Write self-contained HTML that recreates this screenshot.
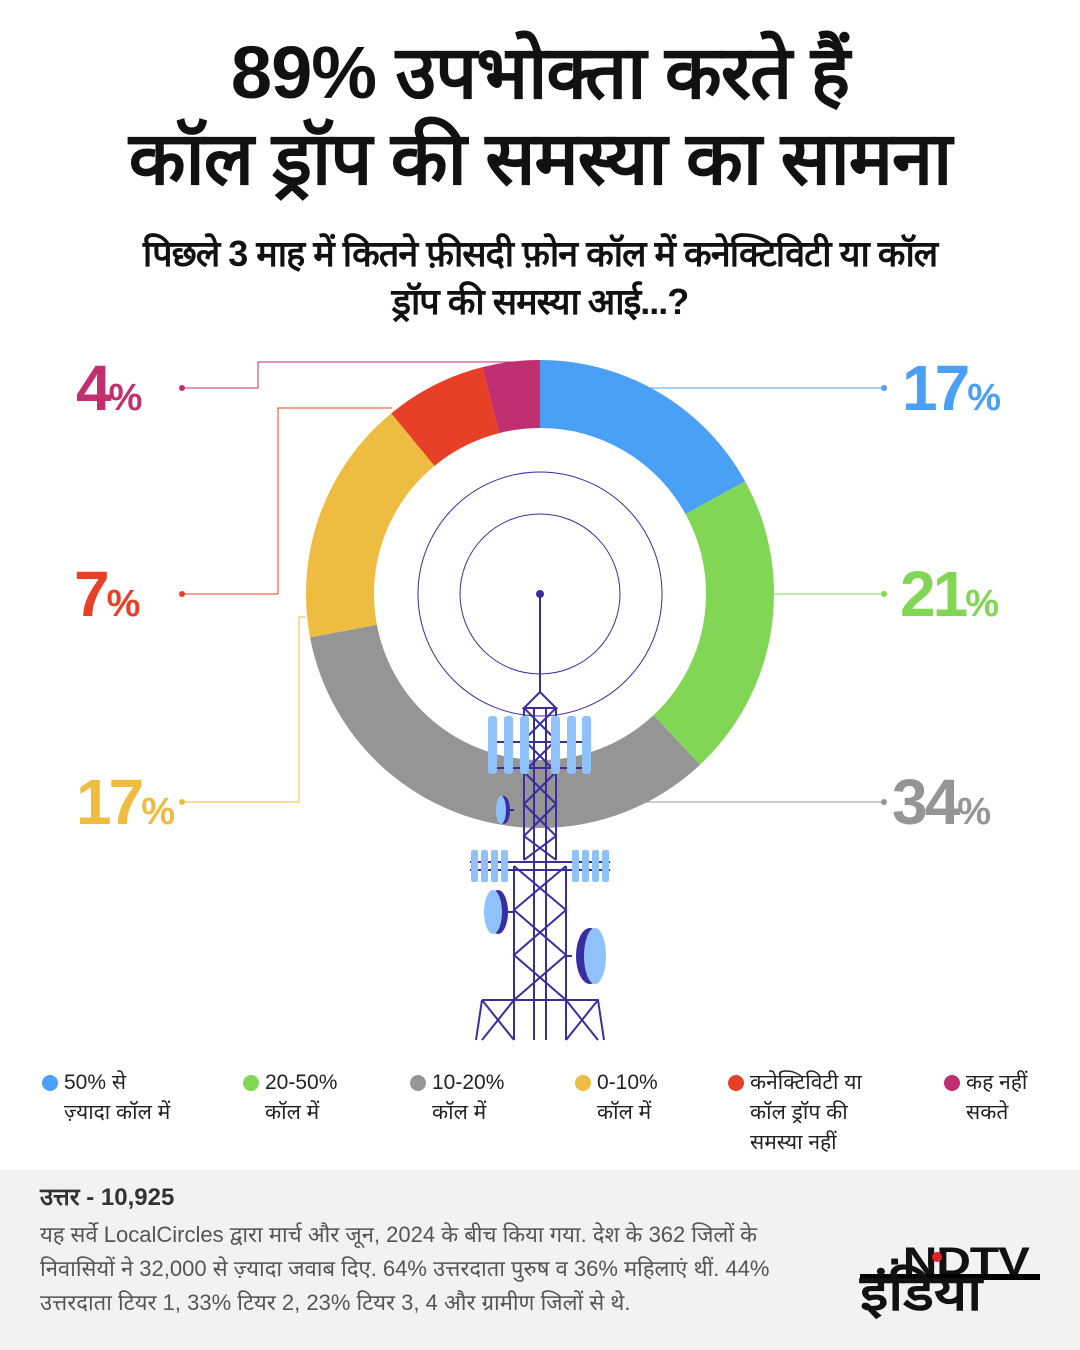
<!DOCTYPE html>
<html><head><meta charset="utf-8"><style>
body{margin:0;width:1080px;height:1350px;background:#fff;position:relative;overflow:hidden;font-family:"Liberation Sans","Noto Sans CJK SC",sans-serif;color:#111}
.t{position:absolute;left:0;width:1080px;text-align:center}
.big{position:absolute;font-weight:bold;font-size:64px;letter-spacing:-3px;line-height:1}
.big small{font-size:38px;letter-spacing:0}
.lg{position:absolute;top:1068px;font-size:21px;line-height:30px;color:#222}
.lg i{position:absolute;left:-22px;top:7px;width:16px;height:16px;border-radius:50%}
</style></head><body>
<div class="t" style="top:30px;font-size:74px;font-weight:900;line-height:86px;letter-spacing:-1px">89% उपभोक्ता करते हैं<br>कॉल ड्रॉप की समस्या का सामना</div>
<div class="t" style="top:230px;font-size:36px;font-weight:bold;line-height:48px;letter-spacing:-1px">पिछले 3 माह में कितने फ़ीसदी फ़ोन कॉल में कनेक्टिविटी या कॉल<br>ड्रॉप की समस्या आई...?</div>
<svg width="1080" height="1350" style="position:absolute;left:0;top:0">
<g transform="translate(540,594)">
<circle r="200" fill="none" stroke="#4aa0f5" stroke-width="68" stroke-dasharray="213.6 1256.6" transform="rotate(-90)"/>
<circle r="200" fill="none" stroke="#82d655" stroke-width="68" stroke-dasharray="263.9 1256.6" stroke-dashoffset="-213.6" transform="rotate(-90)"/>
<circle r="200" fill="none" stroke="#959595" stroke-width="68" stroke-dasharray="427.3 1256.6" stroke-dashoffset="-477.5" transform="rotate(-90)"/>
<circle r="200" fill="none" stroke="#eebc41" stroke-width="68" stroke-dasharray="213.6 1256.6" stroke-dashoffset="-904.8" transform="rotate(-90)"/>
<circle r="200" fill="none" stroke="#e84026" stroke-width="68" stroke-dasharray="88 1256.6" stroke-dashoffset="-1118.4" transform="rotate(-90)"/>
<circle r="200" fill="none" stroke="#c03070" stroke-width="68" stroke-dasharray="50.3 1256.6" stroke-dashoffset="-1206.4" transform="rotate(-90)"/>
<circle r="122" fill="none" stroke="#3a2da0" stroke-width="1"/>
<circle r="80" fill="none" stroke="#3a2da0" stroke-width="1"/>
<circle r="4" fill="#3a2da0"/>
</g>
<g stroke-width="1" fill="none">
<path d="M650 388H884" stroke="#4aa0f5"/><circle cx="884" cy="388" r="3" fill="#4aa0f5"/>
<path d="M774 594H884" stroke="#82d655"/><circle cx="884" cy="594" r="3" fill="#82d655"/>
<path d="M640 802H884" stroke="#959595"/><circle cx="884" cy="802" r="3" fill="#959595"/>
<path d="M182 388H258V362H540" stroke="#c03070"/><circle cx="182" cy="388" r="3" fill="#c03070"/>
<path d="M182 594H278V408H392" stroke="#e84026"/><circle cx="182" cy="594" r="3" fill="#e84026"/>
<path d="M182 802H299V617H306" stroke="#eebc41"/><circle cx="182" cy="802" r="3" fill="#eebc41"/>
</g>
<g stroke="#3a2da0" stroke-width="2" fill="none">
<line x1="540" y1="594" x2="540" y2="692"/>
<path d="M540 692L524 708H556Z"/>
<path d="M524 708V860M556 708V860"/>
<path d="M524 708L556 740L524 772L556 804L524 836L556 860M556 708L524 740L556 772L524 804L556 836L524 860"/>
<path d="M534 708V1040M546 708V1040"/>
<path d="M490 742H590M490 768H590"/>
<path d="M470 862H610M470 870H610"/>
<path d="M514 866V1000M566 866V1000"/>
<path d="M514 866L566 910L514 955L566 1000M566 866L514 910L566 955L514 1000"/>
<path d="M482 1000H598L604 1040M482 1000L476 1040M514 1000V1040M566 1000V1040M482 1000L514 1040M514 1000L482 1040M566 1000L598 1040M598 1000L566 1040"/>
<path d="M500 912H514M572 956H566M514 810H500"/>
</g>
<g fill="#8fc2fb">
<rect x="488" y="716" width="9" height="58" rx="3"/><rect x="504" y="716" width="9" height="58" rx="3"/><rect x="520" y="716" width="9" height="58" rx="3"/>
<rect x="551" y="716" width="9" height="58" rx="3"/><rect x="567" y="716" width="9" height="58" rx="3"/><rect x="582" y="716" width="9" height="58" rx="3"/>
<rect x="471" y="850" width="7" height="32" rx="2"/><rect x="481" y="850" width="7" height="32" rx="2"/><rect x="491" y="850" width="7" height="32" rx="2"/><rect x="501" y="850" width="7" height="32" rx="2"/>
<rect x="572" y="850" width="7" height="32" rx="2"/><rect x="582" y="850" width="7" height="32" rx="2"/><rect x="592" y="850" width="7" height="32" rx="2"/><rect x="602" y="850" width="7" height="32" rx="2"/>
<ellipse cx="504" cy="810" rx="6" ry="14" fill="#3a2da0"/><ellipse cx="501" cy="810" rx="5" ry="14"/>
<ellipse cx="498" cy="912" rx="10" ry="22" fill="#3a2da0"/><ellipse cx="493" cy="912" rx="9" ry="22"/>
<ellipse cx="590" cy="956" rx="14" ry="28" fill="#3a2da0"/><ellipse cx="595" cy="956" rx="11" ry="28"/>
</g>
</svg>
<div class="big" style="left:76px;top:356px;color:#c03070">4<small>%</small></div>
<div class="big" style="left:74px;top:562px;color:#e84026">7<small>%</small></div>
<div class="big" style="left:76px;top:770px;color:#eebc41">17<small>%</small></div>
<div class="big" style="left:902px;top:356px;color:#4aa0f5">17<small>%</small></div>
<div class="big" style="left:900px;top:562px;color:#82d655">21<small>%</small></div>
<div class="big" style="left:892px;top:770px;color:#959595">34<small>%</small></div>
<div class="lg" style="left:64px"><i style="background:#4aa0f5"></i>50% से<br>ज़्यादा कॉल में</div>
<div class="lg" style="left:265px"><i style="background:#82d655"></i>20-50%<br>कॉल में</div>
<div class="lg" style="left:432px"><i style="background:#959595"></i>10-20%<br>कॉल में</div>
<div class="lg" style="left:597px"><i style="background:#eebc41"></i>0-10%<br>कॉल में</div>
<div class="lg" style="left:750px"><i style="background:#e84026"></i>कनेक्टिविटी या<br>कॉल ड्रॉप की<br>समस्या नहीं</div>
<div class="lg" style="left:966px"><i style="background:#c03070"></i>कह नहीं<br>सकते</div>
<div style="position:absolute;left:0;top:1170px;width:1080px;height:180px;background:#f2f2f2"></div>
<div style="position:absolute;left:40px;top:1180px;font-size:24px;font-weight:bold;color:#333">उत्तर - 10,925</div>
<div style="position:absolute;left:40px;top:1218px;width:790px;font-size:22px;line-height:34px;color:#555">यह सर्वे LocalCircles द्वारा मार्च और जून, 2024 के बीच किया गया. देश के 362 जिलों के निवासियों ने 32,000 से ज़्यादा जवाब दिए. 64% उत्तरदाता पुरुष व 36% महिलाएं थीं. 44% उत्तरदाता टियर 1, 33% टियर 2, 23% टियर 3, 4 और ग्रामीण जिलों से थे.</div>
<div style="position:absolute;left:888px;top:1240px;font-size:40px;font-weight:900;letter-spacing:-1px;transform:scaleX(1.2);transform-origin:left">·NDTV</div>
<div style="position:absolute;left:932px;top:1252px;width:10px;height:10px;border-radius:50%;background:#e8202a"></div>
<div style="position:absolute;left:860px;top:1274px;width:180px;height:6px;background:#000"></div>
<div style="position:absolute;left:860px;top:1266px;font-size:50px;font-weight:900;line-height:54px;transform:scaleX(1.15);transform-origin:left">इंडिया</div>
</body></html>
